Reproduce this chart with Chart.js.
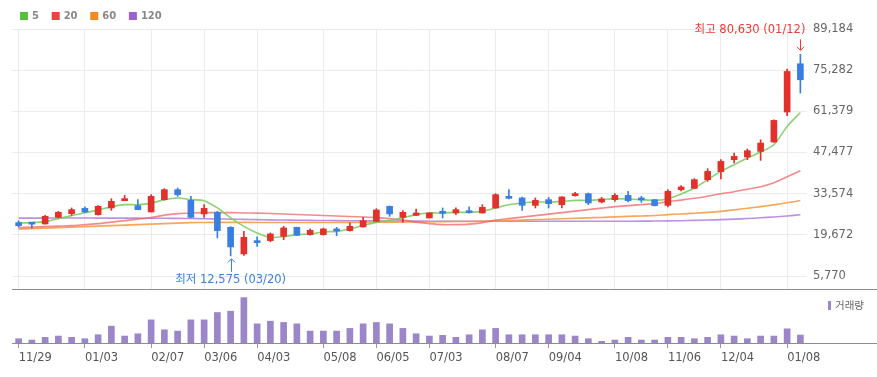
<!DOCTYPE html>
<html>
<head>
<meta charset="utf-8">
<script src="https://cdn.jsdelivr.net/npm/chart.js@4.4.1/dist/chart.umd.min.js"></script>
<style>
  html, body { margin: 0; padding: 0; background: #fff; }
  #wrap { position: relative; width: 877px; height: 377px; }
  #priceBox { position: absolute; left: 0; top: 0; width: 877px; height: 290px; }
  #volBox { position: absolute; left: 0; top: 290px; width: 877px; height: 87px; }
</style>
</head>
<body>
<div id="wrap">
  <div id="priceBox"><canvas id="price"></canvas></div>
  <div id="volBox"><canvas id="vol"></canvas></div>
</div>
<script>
// weekly candles
const dates = ["11/29","12/06","12/13","12/20","12/27","01/03","01/10","01/17","01/24","01/31",
  "02/07","02/14","02/21","02/28","03/06","03/13","03/20","03/27","04/03","04/10",
  "04/17","04/24","05/01","05/08","05/15","05/22","05/29","06/05","06/12","06/19",
  "06/26","07/03","07/10","07/17","07/24","07/31","08/07","08/14","08/21","08/28",
  "09/04","09/11","09/18","09/25","10/02","10/08","10/16","10/23","10/30","11/06",
  "11/13","11/20","11/27","12/04","12/11","12/18","12/26","01/02","01/08","01/15"];
const tickDates = ["11/29","01/03","02/07","03/06","04/03","05/08","06/05","07/03","08/07","09/04","10/08","11/06","12/04","01/08"];
const yTicks = [5770, 19672, 33574, 47477, 61379, 75282, 89184];

const opens = [23790,23620,23350,25580,26830,28610,26490,28750,31210,29530,
  27400,31550,34920,31310,26730,27270,22200,13230,17280,17720,
  19170,22200,19740,19740,21190,21090,22340,24230,29290,25580,
  26250,25380,27160,27060,27600,27060,28750,32660,32120,29630,
  31550,29860,32900,33570,30770,31550,33000,31650,31550,29630,
  34920,35360,38300,41000,45050,45960,47850,51020,61140,77440];
const highs = [24460,23790,26250,27600,28750,29090,29530,31890,33000,31550,
  33240,35260,35500,32660,29860,27670,22440,20850,18960,20310,
  22540,22270,21660,21930,22200,23690,25580,28510,29420,27840,
  28410,27160,28750,28750,29090,29860,33570,34920,32390,32120,
  32330,32560,34010,33810,32330,33570,34350,32660,31550,34920,
  36270,38640,42010,45050,47310,48660,51790,58530,75650,80630];
const lows = [22270,21930,23280,25380,26250,27160,26320,27940,31210,28180,
  27400,31380,32660,25480,25580,18630,12575,12760,15790,17280,
  18050,19400,19570,19570,19400,20920,22270,24130,25920,23890,
  26150,25310,25380,26490,26990,26990,28680,31780,27940,28750,
  28750,28750,32730,29860,30440,30980,30770,30640,29420,29090,
  34490,35260,37720,38530,43930,45050,44810,50920,59890,67550];
const closes = [22780,23280,25920,27270,28180,27400,29290,30980,31890,28180,
  32660,34920,33240,25580,28610,21090,15590,18830,17040,19980,
  22000,19500,21190,21660,20990,22540,24460,28070,26730,27270,
  27060,27060,26930,28180,27160,28950,33240,31990,29630,31310,
  30200,32460,33570,30440,31790,33000,31210,31450,29530,34350,
  35840,38300,41100,44470,46160,48080,50680,58310,74840,72040];

// moving averages
const ma5 = [23690,23790,24130,25140,26150,27160,28010,29190,29860,29860,
  30370,31550,32120,31550,31210,28750,25380,22540,20310,18830,
  19070,19740,19980,20650,20850,21660,22880,23890,24570,25480,
  26490,27060,27060,27270,27270,27600,28750,29860,30440,30770,
  30770,30980,31310,31310,31550,31890,31790,31550,31310,31890,
  33470,35500,38300,41100,43360,45620,47640,50110,56280,61000];
const ma20 = [22100,22270,22440,22610,22780,23120,23450,23960,24460,24970,
  25480,26320,26830,27060,27160,27160,27160,27060,27000,26890,
  26730,26560,26390,26220,26050,25880,25710,25480,25140,24630,
  23960,23450,23120,23120,23280,23790,24630,25140,25650,26150,
  26660,27160,27670,28180,28680,29190,29530,29860,30200,30900,
  31400,32000,32730,33570,34250,35090,35940,37290,39310,41330];
const ma60 = [21600,21770,21930,22100,22270,22440,22610,22780,22950,23120,
  23280,23450,23620,23790,23860,23890,23880,23870,23860,23850,
  23850,23840,23840,23850,23860,23880,23900,23930,23960,24000,
  24040,24080,24120,24160,24200,24250,24350,24500,24650,24800,
  24950,25100,25250,25400,25550,25750,25900,26050,26200,26500,
  26700,26950,27250,27600,28100,28650,29200,29800,30500,31250];
const ma120 = [25300,25320,25330,25340,25340,25340,25330,25320,25310,25300,
  25290,25260,25220,25170,25110,25040,24960,24880,24800,24730,
  24670,24610,24560,24510,24470,24430,24400,24370,24340,24320,
  24300,24280,24270,24260,24250,24250,24240,24240,24240,24240,
  24240,24250,24250,24260,24260,24270,24280,24290,24330,24380,
  24450,24550,24670,24800,24980,25180,25420,25700,26050,26450];

// volume (thousand shares)
const volumes = [430,300,570,700,570,430,830,1700,700,930,
  2330,1330,1200,2330,2330,3070,3200,4570,1930,2200,
  2070,1930,1200,1200,1200,1470,1930,2070,1930,1470,
  930,700,770,570,830,1330,1470,830,830,830,
  830,830,700,430,170,300,570,300,300,570,
  570,430,570,830,700,430,700,700,1430,800];

const highDate = "01/12";
const lowDate = "03/20";

const UP = "#e2302a", DOWN = "#3a7ee0", GRID = "#ebebeb";
const AXIS_W = 70;
const candleColors = opens.map((o, i) => (closes[i] >= o ? UP : DOWN));
const isTick = (i) => tickDates.includes(dates[i]);

Chart.defaults.font.family = "'DejaVu Sans', 'Noto Sans CJK KR', sans-serif";
Chart.defaults.font.size = 11.5;

// MA legend at top-left
const maLegend = {
  id: "maLegend",
  afterDraw(chart) {
    const ctx = chart.ctx;
    ctx.save();
    ctx.font = "bold 10px 'DejaVu Sans'";
    ctx.textBaseline = "middle";
    let x = 20;
    chart.data.datasets.filter((d) => d.type === "line").forEach((d) => {
      ctx.fillStyle = d.backgroundColor;
      ctx.fillRect(x, 12, 8, 8);
      ctx.fillStyle = "#888";
      ctx.fillText(d.label, x + 12, 16.5);
      x += 12 + ctx.measureText(d.label).width + 12.7;
    });
    ctx.restore();
  },
};

// separator line across full width at bottom of plot
const bottomLine = {
  id: "bottomLine",
  afterDraw(chart) {
    const { ctx, chartArea } = chart;
    ctx.save();
    ctx.strokeStyle = "#8c8c8c";
    ctx.lineWidth = 1;
    ctx.beginPath();
    ctx.moveTo(chartArea.left, Math.round(chartArea.bottom) + 0.5);
    ctx.lineTo(chart.width, Math.round(chartArea.bottom) + 0.5);
    ctx.stroke();
    ctx.restore();
  },
};

function arrow(ctx, x, tail, tip) {
  const dir = tip > tail ? 1 : -1;
  x = Math.round(x) + 0.5;
  ctx.beginPath();
  ctx.moveTo(x, tail);
  ctx.lineTo(x, tip);
  ctx.moveTo(x - 3.5, tip - dir * 3.5);
  ctx.lineTo(x, tip);
  ctx.lineTo(x + 3.5, tip - dir * 3.5);
  ctx.stroke();
}

// high / low markers
const markers = {
  id: "markers",
  afterDraw(chart) {
    const { ctx, scales } = chart;
    const hi = highs.indexOf(Math.max(...highs));
    const lo = lows.indexOf(Math.min(...lows));
    ctx.save();
    ctx.font = "11.5px 'DejaVu Sans', 'Noto Sans CJK KR'";
    ctx.lineWidth = 1;
    ctx.textBaseline = "middle";

    let px = scales.x.getPixelForValue(hi), py = scales.y.getPixelForValue(highs[hi]);
    ctx.strokeStyle = ctx.fillStyle = "#ee3a33";
    arrow(ctx, px, py - 15, py - 4);
    ctx.textAlign = "right";
    ctx.fillText("최고 " + highs[hi].toLocaleString("en-US") + " (" + highDate + ")", px + 5, py - 24.5);

    px = scales.x.getPixelForValue(lo);
    py = scales.y.getPixelForValue(lows[lo]);
    ctx.strokeStyle = ctx.fillStyle = "#3a82e0";
    arrow(ctx, px, py + 16, py + 3);
    ctx.textAlign = "center";
    ctx.fillText("최저 " + lows[lo].toLocaleString("en-US") + " (" + lowDate + ")", px, py + 24);
    ctx.restore();
  },
};

const maLine = (label, data, line, box, order) => ({
  type: "line", label, data, borderColor: line, backgroundColor: box,
  borderWidth: 1.6, pointRadius: 0, tension: 0.25, fill: false, order,
});

new Chart(document.getElementById("price"), {
  type: "bar",
  data: {
    labels: dates,
    datasets: [
      maLine("5", ma5, "rgba(125,205,100,0.9)", "#5bbf3c", 2),
      maLine("20", ma20, "rgba(240,100,100,0.75)", "#ee4343", 3),
      maLine("60", ma60, "rgba(247,150,60,0.85)", "#f5891f", 4),
      maLine("120", ma120, "rgba(175,125,225,0.85)", "#9d5fd4", 5),
      { label: "wick", data: lows.map((l, i) => [l, highs[i]]), backgroundColor: candleColors,
        barThickness: 1, grouped: false, order: 1 },
      { label: "body", data: opens.map((o, i) => [o, closes[i]]), backgroundColor: candleColors,
        barThickness: 6, minBarLength: 2, grouped: false, order: 0 },
    ],
  },
  options: {
    responsive: true,
    maintainAspectRatio: false,
    devicePixelRatio: 1,
    animation: false,
    events: [],
    layout: { padding: { left: 12, top: 29, right: 0, bottom: 1 } },
    plugins: { legend: { display: false }, tooltip: { enabled: false } },
    scales: {
      x: {
        offset: true,
        grid: { offset: false, drawTicks: false, color: (c) => (isTick(c.index) ? GRID : "rgba(0,0,0,0)") },
        border: { display: false },
        ticks: { display: false, autoSkip: false },
        afterFit: (s) => { s.height = 0; s.paddingLeft = 0; s.paddingRight = 0; },
      },
      y: {
        position: "right",
        min: 1380,
        max: 89184,
        grid: { color: GRID, drawTicks: false },
        border: { display: false },
        ticks: { padding: 6, color: "#666", callback: (v) => v.toLocaleString("en-US") },
        afterBuildTicks: (a) => { a.ticks = yTicks.map((v) => ({ value: v })); },
        afterFit: (s) => { s.width = AXIS_W; s.paddingTop = 0; s.paddingBottom = 0; },
      },
    },
  },
  plugins: [maLegend, bottomLine, markers],
});

// volume legend on the right
const volLegend = {
  id: "volLegend",
  afterDraw(chart) {
    const { ctx, chartArea } = chart;
    ctx.save();
    ctx.fillStyle = chart.data.datasets[0].backgroundColor;
    ctx.fillRect(chartArea.right + 21, 11, 3, 9);
    ctx.fillStyle = "#666";
    ctx.font = "10.5px 'Noto Sans CJK KR'";
    ctx.textBaseline = "middle";
    ctx.fillText(chart.data.datasets[0].label, chartArea.right + 28, 15.5);
    ctx.restore();
  },
};

new Chart(document.getElementById("vol"), {
  type: "bar",
  data: {
    labels: dates,
    datasets: [{ label: "거래량", data: volumes, backgroundColor: "#9a86c8", barThickness: 6 }],
  },
  options: {
    responsive: true,
    maintainAspectRatio: false,
    devicePixelRatio: 1,
    animation: false,
    events: [],
    layout: { padding: { left: 12, top: 0, right: 0, bottom: 0 } },
    plugins: { legend: { display: false }, tooltip: { enabled: false } },
    scales: {
      x: {
        offset: true,
        grid: { offset: false, drawOnChartArea: false, drawTicks: true, tickLength: 5,
          tickColor: (c) => (isTick(c.index) ? "#999" : "rgba(0,0,0,0)") },
        border: { display: false },
        ticks: { autoSkip: false, maxRotation: 0, align: "start", padding: 3, color: "#555",
          callback: (v, i) => (isTick(i) ? dates[i] : "") },
        afterFit: (s) => { s.height = 34; s.paddingLeft = 0; s.paddingRight = 0; },
      },
      y: {
        position: "right",
        min: 0,
        max: 5340,
        grid: { display: false },
        border: { display: false },
        ticks: { display: false },
        afterFit: (s) => { s.width = AXIS_W; s.paddingTop = 0; s.paddingBottom = 0; },
      },
    },
  },
  plugins: [bottomLine, volLegend],
});
</script>
</body>
</html>
